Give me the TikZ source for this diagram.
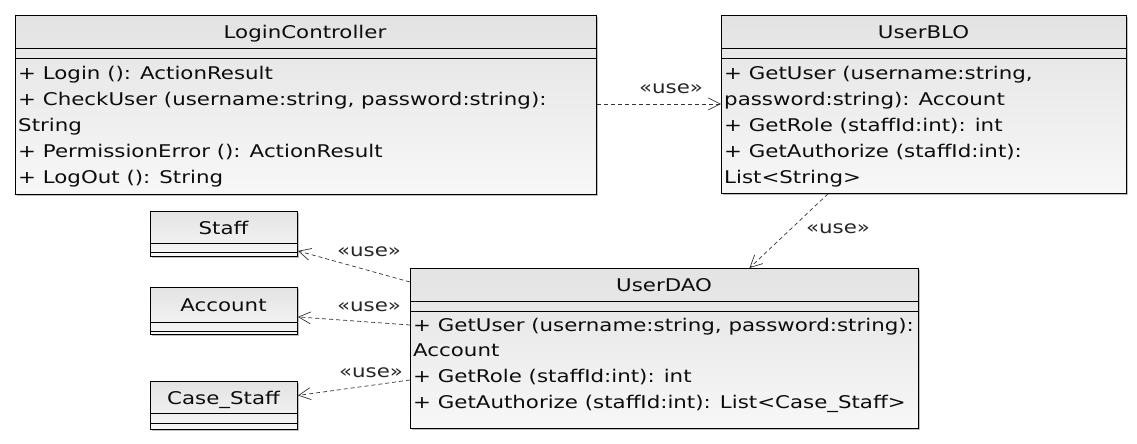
\documentclass[tikz,border=0pt]{standalone}
\usepackage{fontspec}
\setmainfont[FakeStretch=1.22]{DejaVu Sans}
\usetikzlibrary{arrows.meta,shadows}
\begin{document}
\begin{tikzpicture}[x=1pt,y=-1pt,
  every node/.style={font=\fontsize{17.5}{20}\selectfont, text=black!95},
  classbox/.style={draw=black, line width=0.9pt, anchor=north west, inner sep=0pt,
    top color=black!11, bottom color=white!97!black,
    drop shadow={shadow xshift=2pt, shadow yshift=-2pt, opacity=0.25, fill=black}},
  sep/.style={draw=black, line width=0.9pt},
  txt/.style={anchor=base west, inner sep=0pt},
  ttl/.style={anchor=base, inner sep=0pt},
  uses/.style={draw=black!80, line width=0.7pt, dash pattern=on 4pt off 3pt,
    -{Straight Barb[length=12pt,width=12pt,line width=0.7pt]}},
  lbl/.style={inner sep=0pt, text=black!85}]
\useasboundingbox (0,0) rectangle (1137,444);

% LoginController
\node[classbox, minimum width=581pt, minimum height=179pt] (lc) at (15,15) {};
\draw[sep] ([yshift=-33pt]lc.north west) -- ([yshift=-33pt]lc.north east);
\draw[sep] ([yshift=-43pt]lc.north west) -- ([yshift=-43pt]lc.north east);
\node[ttl] (lct) at (305,38) {LoginController};
\node[txt] (lc1) at (18,79) {+ Login (): ActionResult};
\node[txt] (lc2) at (18,105) {+ CheckUser (username:string, password:string):};
\node[txt] (lc3) at (18,131) {String};
\node[txt] (lc4) at (18,157) {+ PermissionError (): ActionResult};
\node[txt] (lc5) at (18,183) {+ LogOut (): String};

% UserBLO
\node[classbox, minimum width=405pt, minimum height=178pt] (blo) at (721,15) {};
\draw[sep] ([yshift=-33pt]blo.north west) -- ([yshift=-33pt]blo.north east);
\draw[sep] ([yshift=-43pt]blo.north west) -- ([yshift=-43pt]blo.north east);
\node[ttl] (blot) at (923.5,38) {UserBLO};
\node[txt] (blo1) at (724,79) {+ GetUser (username:string,};
\node[txt] (blo2) at (724,105) {password:string): Account};
\node[txt] (blo3) at (724,131) {+ GetRole (staffId:int): int};
\node[txt] (blo4) at (724,157) {+ GetAuthorize (staffId:int):};
\node[txt] (blo5) at (724,183) {List<String>};

% UserDAO
\node[classbox, minimum width=508pt, minimum height=160pt] (dao) at (410,268) {};
\draw[sep] ([yshift=-33pt]dao.north west) -- ([yshift=-33pt]dao.north east);
\draw[sep] ([yshift=-43pt]dao.north west) -- ([yshift=-43pt]dao.north east);
\node[ttl] (daot) at (664,291) {UserDAO};
\node[txt] (dao1) at (413,331) {+ GetUser (username:string, password:string):};
\node[txt] (dao2) at (413,356) {Account};
\node[txt] (dao3) at (413,382) {+ GetRole (staffId:int): int};
\node[txt] (dao4) at (413,408) {+ GetAuthorize (staffId:int): List<Case\_Staff>};

% Staff
\node[classbox, minimum width=147pt, minimum height=45pt] (staff) at (150,211) {};
\draw[sep] ([yshift=-32pt]staff.north west) -- ([yshift=-32pt]staff.north east);
\draw[sep] ([yshift=-41pt]staff.north west) -- ([yshift=-41pt]staff.north east);
\node[ttl] (stafft) at (223.5,234) {Staff};

% Account
\node[classbox, minimum width=147pt, minimum height=47pt] (acc) at (150,287) {};
\draw[sep] ([yshift=-35pt]acc.north west) -- ([yshift=-35pt]acc.north east);
\draw[sep] ([yshift=-44pt]acc.north west) -- ([yshift=-44pt]acc.north east);
\node[ttl] (acct) at (223.5,311) {Account};

% Case_Staff
\node[classbox, minimum width=147pt, minimum height=48pt] (cs) at (150,381) {};
\draw[sep] ([yshift=-32pt]cs.north west) -- ([yshift=-32pt]cs.north east);
\draw[sep] ([yshift=-42pt]cs.north west) -- ([yshift=-42pt]cs.north east);
\node[ttl] (cst) at (223.5,404) {Case\_Staff};

% connectors
\draw[uses] ([yshift=1pt]lc.east) -- ([yshift=1pt]lc.east -| blo.west);
\node[lbl] (l1) at (671,89) {«use»};
\draw[uses] ([xshift=-96pt]blo.south) -- ([xshift=85pt]dao.north);
\node[lbl] (l2) at (838,229) {«use»};
\draw[uses] ([yshift=-14pt]dao.north west) -- ([yshift=6pt]staff.south east);
\node[lbl] (l3) at (369,252) {«use»};
\draw[uses] ([yshift=-57pt]dao.north west) -- ([yshift=18pt]acc.south east);
\node[lbl] (l4) at (369,307) {«use»};
\draw[uses] ([yshift=-112pt]dao.north west) -- ([yshift=10pt]cs.west -| cs.east);
\node[lbl] (l5) at (371,373) {«use»};
\end{tikzpicture}
\end{document}
